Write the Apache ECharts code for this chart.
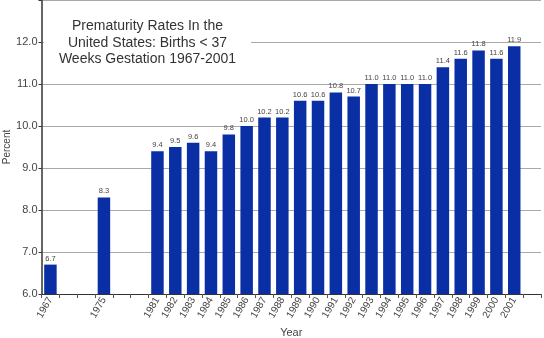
<!DOCTYPE html>
<html>
<head>
<meta charset="utf-8">
<script src="https://cdn.jsdelivr.net/npm/echarts@6/dist/echarts.min.js"></script>
<style>html,body{margin:0;padding:0;background:#fff}#c{width:544px;height:338px}</style>
</head>
<body>
<div id="c"></div>
<script>
const categories = ['1967','','','1975','','','1981','1982','1983','1984','1985','1986','1987','1988','1989','1990','1991','1992','1993','1994','1995','1996','1997','1998','1999','2000','2001',''];
const values = [6.7,null,null,8.3,null,null,9.4,9.5,9.6,9.4,9.8,10.0,10.2,10.2,10.6,10.6,10.8,10.7,11.0,11.0,11.0,11.0,11.4,11.6,11.8,11.6,11.9,null];
const yTicks = [6,7,8,9,10,11,12,13];
const titleLines = ['Prematurity Rates In the','United States: Births < 37','Weeks Gestation 1967-2001'];

const chart = echarts.init(document.getElementById('c'), null, {renderer:'canvas'});
chart.setOption({
  animation:false,
  backgroundColor:'#fff',
  title:{
    text: titleLines.join('\n'),
    left:132.5, top:17, textAlign:'center',
    backgroundColor:'#fff',
    padding:[1,15],
    textStyle:{fontFamily:'Liberation Sans, Arial, sans-serif',fontSize:14,fontWeight:'normal',color:'#333',lineHeight:16.5}
  },
  grid:{left:41.5,right:3,top:0,bottom:44,containLabel:false,outerBoundsMode:'none'},
  xAxis:{
    type:'category',data:categories,
    name:'Year',nameLocation:'middle',nameGap:33,nameMoveOverlap:false,
    nameTextStyle:{fontFamily:'Liberation Sans, Arial, sans-serif',fontSize:11,color:'#444'},
    axisLine:{lineStyle:{color:'#333',width:1}},
    axisTick:{show:true,interval:0,length:4,lineStyle:{color:'#555'}},
    axisLabel:{interval:0,rotate:60,fontFamily:'Liberation Sans, Arial, sans-serif',fontSize:10,color:'#444',margin:4}
  },
  yAxis:{
    type:'value',min:6,max:13,interval:1,
    name:'Percent',nameLocation:'middle',nameGap:29,nameRotate:90,nameMoveOverlap:false,
    nameTextStyle:{fontFamily:'Liberation Sans, Arial, sans-serif',fontSize:10,color:'#444'},
    axisLine:{show:true,lineStyle:{color:'#333',width:1.5}},
    axisTick:{show:true,length:3,lineStyle:{color:'#333'}},
    axisLabel:{formatter:v=>yTicks.includes(v)&&v<13?v.toFixed(1):'',fontFamily:'Liberation Sans, Arial, sans-serif',fontSize:11,color:'#444',margin:4},
    splitLine:{show:true,lineStyle:{color:'#aaa',width:1}}
  },
  series:[{
    type:'bar',data:values,barWidth:'70%',
    itemStyle:{color:'#0a2fa5'},
    label:{show:true,position:'top',distance:2,formatter:p=>p.value==null?'':p.value.toFixed(1),
      fontFamily:'Liberation Sans, Arial, sans-serif',fontSize:7.5,color:'#444'}
  }]
});
</script>
</body>
</html>
